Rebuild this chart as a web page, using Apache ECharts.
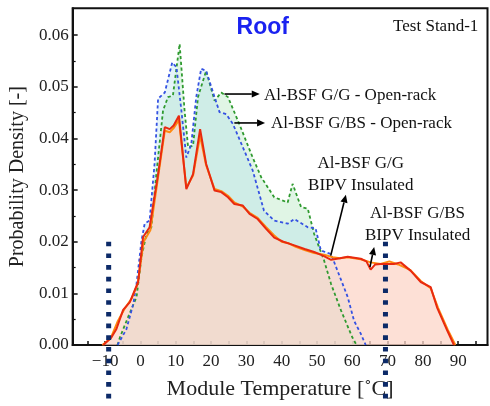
<!DOCTYPE html>
<html>
<head>
<meta charset="utf-8">
<script src="https://cdn.jsdelivr.net/npm/echarts@6/dist/echarts.min.js"></script>
<style>
  html, body { margin: 0; padding: 0; background: #fff; }
  #chart { width: 490px; height: 406px; }
</style>
</head>
<body>
<div id="chart"></div>
<script>
// Module temperature (°C) and probability density for each configuration.
const tempGGOpen = [-6.5, -5.8, -3.5, -1.1, 0.3, 1.7, 3.1, 4.5, 6.4, 7.8, 9.2, 11.1, 12.5, 13.5, 14.9, 16.3, 18.6, 21.0, 22.9, 24.8, 28.0, 31.8, 34.2, 37.9, 41.7, 43.1, 45.5, 47.4, 49.2, 52.0, 54.0, 56.8, 60.0, 61.2];
const densGGOpen = [0, 0.0015, 0.0054, 0.0093, 0.0170, 0.0215, 0.0228, 0.0331, 0.0454, 0.0480, 0.0483, 0.0583, 0.0454, 0.0383, 0.0386, 0.0480, 0.0531, 0.0473, 0.0489, 0.0480, 0.0428, 0.0363, 0.0325, 0.0286, 0.0276, 0.0312, 0.0267, 0.0264, 0.0215, 0.0164, 0.0118, 0.0067, 0.0015, 0];

const tempGBSOpen = [-6.5, -4.0, -2.0, -1.1, 0.3, 1.2, 2.6, 4.0, 5.0, 6.9, 9.0, 10.2, 11.6, 13.0, 14.4, 15.8, 17.2, 18.6, 21.0, 22.4, 24.3, 26.2, 29.0, 31.8, 35.0, 37.9, 41.7, 43.6, 47.4, 49.6, 51.1, 54.0, 55.8, 58.7, 60.5, 62.4, 63.8];
const densGBSOpen = [0, 0.0030, 0.0080, 0.0119, 0.0202, 0.0235, 0.0241, 0.0351, 0.0477, 0.0489, 0.0547, 0.0538, 0.0454, 0.0363, 0.0389, 0.0480, 0.0535, 0.0531, 0.0480, 0.0451, 0.0447, 0.0428, 0.0383, 0.0338, 0.0260, 0.0241, 0.0235, 0.0244, 0.0228, 0.0226, 0.0183, 0.0176, 0.0144, 0.0093, 0.0047, 0.0022, 0];

const tempGGBipv = [-10.5, -8.2, -6.8, -4.9, -3.0, -0.65, 0.75, 2.6, 5.0, 6.9, 8.3, 9.4, 10.9, 13.0, 14.9, 16.9, 18.6, 21.0, 22.9, 24.8, 26.6, 29.0, 30.9, 33.2, 35.6, 37.9, 40.5, 43.6, 46.5, 49.2, 52.0, 54.0, 56.5, 58.7, 62.4, 64.0, 65.2, 66.5, 68.0, 71.8, 73.7, 76.5, 79.4, 82.2, 84.0, 86.9, 88.8];
const densGGBipv = [0, 0.0015, 0.0031, 0.0068, 0.0083, 0.0122, 0.0209, 0.0228, 0.0331, 0.0422, 0.0418, 0.0425, 0.0444, 0.0302, 0.0331, 0.0418, 0.0351, 0.0299, 0.0296, 0.0286, 0.0273, 0.0270, 0.0254, 0.0244, 0.0225, 0.0208, 0.0200, 0.0193, 0.0186, 0.0180, 0.0172, 0.0165, 0.0168, 0.0171, 0.0167, 0.0162, 0.0146, 0.0156, 0.0157, 0.0157, 0.0160, 0.0144, 0.0122, 0.0112, 0.0073, 0.0028, 0];

const tempGBSBipv = [-10.8, -8.5, -6.5, -4.5, -2.5, -0.8, 0.9, 2.8, 5.0, 6.9, 8.3, 9.4, 10.9, 13.0, 14.9, 16.9, 18.6, 21.0, 22.9, 24.8, 26.6, 29.0, 30.9, 33.2, 35.6, 37.9, 40.0, 42.0, 44.0, 46.5, 49.2, 52.0, 54.5, 56.5, 58.7, 62.4, 65.2, 68.0, 70.5, 73.0, 76.5, 79.4, 82.2, 84.3, 87.0, 89.2];
const densGBSBipv = [0, 0.0012, 0.0045, 0.0070, 0.0090, 0.0118, 0.0200, 0.0222, 0.0325, 0.0415, 0.0412, 0.0420, 0.0436, 0.0305, 0.0328, 0.0405, 0.0348, 0.0302, 0.0298, 0.0289, 0.0276, 0.0268, 0.0256, 0.0246, 0.0228, 0.0212, 0.0200, 0.0197, 0.0190, 0.0184, 0.0178, 0.0175, 0.0170, 0.0168, 0.0170, 0.0166, 0.0160, 0.0157, 0.0162, 0.0156, 0.0145, 0.0124, 0.0110, 0.0072, 0.0030, 0];

// Axis ticks and labels
const xLabelValues = [-10, 0, 10, 20, 30, 40, 50, 60, 70, 80, 90];
const xTickValues = [-15, -10, -5, 0, 5, 10, 15, 20, 25, 30, 35, 40, 45, 50, 55, 60, 65, 70, 75, 80, 85, 90, 95];
const yLabelValues = [0, 0.01, 0.02, 0.03, 0.04, 0.05, 0.06];
const yMinorTickValues = [0.005, 0.015, 0.025, 0.035, 0.045, 0.055];

// Temperatures bounding the operating window
const windowTemps = [-9, 69.4];

const pts = (t, d) => t.map((v, i) => [v, d[i]]);

const SERIF = '"Liberation Serif", "DejaVu Serif", serif';

const chart = echarts.init(document.getElementById('chart'), null, { renderer: 'canvas' });

function areaSeries(name, t, d, color) {
  return {
    name: name, type: 'line', data: pts(t, d), showSymbol: false, silent: true,
    lineStyle: { width: 0, opacity: 0 }, areaStyle: { color: color, opacity: 1 }
  };
}
function lineSeries(name, t, d, color, width, dashed) {
  return {
    name: name, type: 'line', data: pts(t, d), showSymbol: false, silent: true,
    lineStyle: { color: color, width: width, type: dashed ? [3.2, 2.6] : 'solid' }
  };
}

const option = {
  animation: false,
  backgroundColor: '#ffffff',
  grid: {
    left: 71.5, right: 2.5, top: 8.3, bottom: 61,
    show: true, borderColor: '#111', borderWidth: 2, backgroundColor: 'transparent'
  },
  xAxis: {
    type: 'value', min: -19.2, max: 98.3,
    name: 'Module Temperature [˚C]', nameLocation: 'middle', nameGap: 33,
    nameTextStyle: { fontFamily: SERIF, fontSize: 22, color: '#222' },
    axisLine: { show: true, onZero: false, lineStyle: { color: '#111', width: 2 } },
    axisTick: { show: true, inside: true, length: 4, customValues: xTickValues, lineStyle: { color: '#111', width: 1.5 } },
    axisLabel: {
      customValues: xLabelValues, margin: 8,
      fontFamily: SERIF, fontSize: 17, color: '#222',
      formatter: v => String(v).replace('-', '\u2212')
    },
    splitLine: { show: false }
  },
  yAxis: [{
    type: 'value', min: 0, max: 0.0652,
    name: 'Probability Density [-]', nameLocation: 'middle', nameGap: 41, nameRotate: 90,
    nameTextStyle: { fontFamily: SERIF, fontSize: 20, color: '#222' },
    axisLine: { show: true, onZero: false, lineStyle: { color: '#111', width: 2 } },
    axisTick: { show: true, inside: true, length: 5, customValues: yLabelValues, lineStyle: { color: '#111', width: 1.5 } },
    axisLabel: {
      customValues: yLabelValues, margin: 4,
      fontFamily: SERIF, fontSize: 17, color: '#222',
      formatter: v => v.toFixed(2)
    },
    splitLine: { show: false }
  }, {
    // minor ticks only
    type: 'value', min: 0, max: 0.0652, position: 'left', offset: 0,
    axisLine: { show: false, onZero: false },
    axisTick: { show: true, inside: true, length: 3, customValues: yMinorTickValues, lineStyle: { color: '#111', width: 1.2 } },
    axisLabel: { show: false },
    splitLine: { show: false }
  }],
  visualMap: [{
    type: 'piecewise', show: false, dimension: 0, seriesIndex: 5,
    pieces: [
      { lt: 0.5, color: '#8a62e0' },
      { gte: 0.5, lt: 53.8, color: '#3552e2' },
      { gte: 53.8, color: '#9b66e6' }
    ]
  }],
  series: [
    areaSeries('Al-BSF G/G - Open-rack', tempGGOpen, densGGOpen, 'rgba(182,230,192,0.42)'),
    areaSeries('Al-BSF G/BS - Open-rack', tempGBSOpen, densGBSOpen, 'rgba(172,220,236,0.32)'),
    areaSeries('Al-BSF G/G BIPV Insulated', tempGGBipv, densGGBipv, 'rgba(252,214,200,0.72)'),
    areaSeries('Al-BSF G/BS BIPV Insulated', tempGBSBipv, densGBSBipv, 'rgba(252,214,200,0.08)'),
    lineSeries('Al-BSF G/G - Open-rack', tempGGOpen, densGGOpen, '#2f9a2f', 1.8, true),
    lineSeries('Al-BSF G/BS - Open-rack', tempGBSOpen, densGBSOpen, '#3552e2', 1.8, true),
    lineSeries('Al-BSF G/BS BIPV Insulated', tempGBSBipv, densGBSBipv, '#ff8a10', 2, false),
    lineSeries('Al-BSF G/G BIPV Insulated', tempGGBipv, densGGBipv, '#e82a10', 2, false)
  ]
};

chart.setOption(option);

// Annotations, anchored in data coordinates
const toPx = p => chart.convertToPixel({ gridIndex: 0 }, p);

function arrow(from, to) {
  const a = toPx(from), b = toPx(to);
  const dx = b[0] - a[0], dy = b[1] - a[1];
  const len = Math.hypot(dx, dy), ux = dx / len, uy = dy / len;
  const hl = 8, hw = 3.6;
  const bx = b[0] - ux * hl, by = b[1] - uy * hl;
  return [
    { type: 'line', z: 100, shape: { x1: a[0], y1: a[1], x2: bx, y2: by }, style: { stroke: '#000', lineWidth: 1.6 } },
    { type: 'polygon', z: 100, shape: { points: [[b[0], b[1]], [bx - uy * hw, by + ux * hw], [bx + uy * hw, by - ux * hw]] }, style: { fill: '#000' } }
  ];
}

function label(text, at, align, opts) {
  const p = toPx(at);
  return {
    type: 'text', z: 100, x: p[0], y: p[1],
    style: Object.assign({
      text: text, align: align, verticalAlign: 'middle',
      fontFamily: SERIF, fontSize: 17, fill: '#111'
    }, opts || {})
  };
}

function windowLine(t) {
  const a = toPx([t, 0.0200]), b = toPx([t, -0.0110]);
  return { type: 'line', z: 110, shape: { x1: a[0], y1: a[1], x2: b[0], y2: b[1] },
    style: { stroke: '#0c2a68', lineWidth: 5, lineDash: [4.6, 7.1] } };
}

const graphics = [
  label('Roof', [34.65, 0.0614], 'center', { fontFamily: '"Liberation Sans", Arial, sans-serif', fontWeight: 'bold', fontSize: 23, fill: '#1a22f0' }),
  label('Test Stand-1', [95.7, 0.0616], 'right', { fontSize: 17 }),
  label('Al-BSF G/G - Open-rack', [35.0, 0.0483], 'left'),
  label('Al-BSF G/BS - Open-rack', [37.0, 0.0429], 'left'),
  label('Al-BSF G/G', [62.4, 0.0352], 'center'),
  label('BIPV Insulated', [62.4, 0.0309], 'center'),
  label('Al-BSF G/BS', [78.5, 0.0255], 'center'),
  label('BIPV Insulated', [78.5, 0.0212], 'center'),
  ...arrow([23.8, 0.0486], [33.8, 0.0486]),
  ...arrow([26.6, 0.0430], [35.3, 0.0430]),
  ...arrow([53.9, 0.0173], [58.2, 0.0291]),
  ...arrow([65.0, 0.0151], [66.2, 0.0190]),
  ...windowTemps.map(windowLine)
];

chart.setOption({ graphic: graphics });
</script>
</body>
</html>
